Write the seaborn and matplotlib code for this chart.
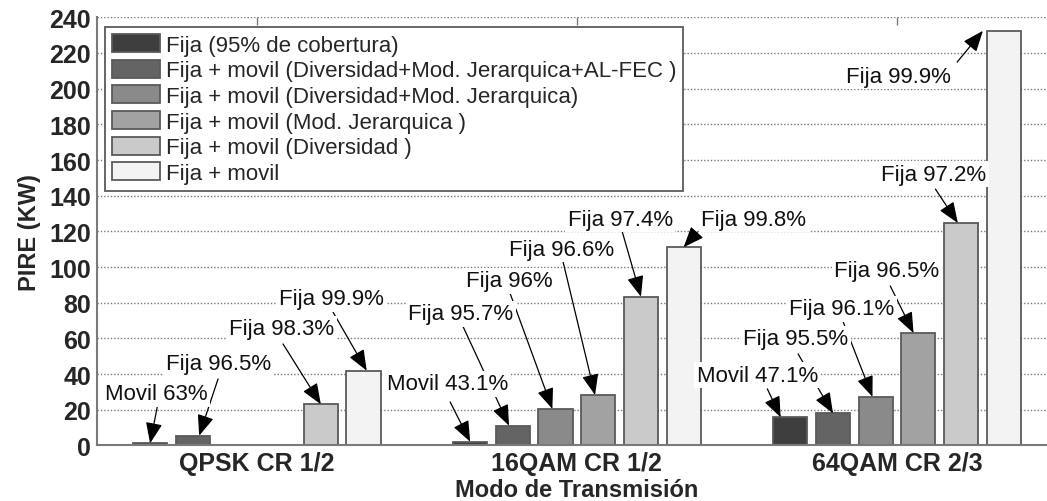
import numpy as np
import pandas as pd
import seaborn as sns
import matplotlib.pyplot as plt

modos = ['QPSK CR 1/2', '16QAM CR 1/2', '64QAM CR 2/3']
series = ['Fija (95% de cobertura)',
          'Fija + movil (Diversidad+Mod. Jerarquica+AL-FEC )',
          'Fija + movil (Diversidad+Mod. Jerarquica)',
          'Fija + movil (Mod. Jerarquica )',
          'Fija + movil (Diversidad )',
          'Fija + movil']
# PIRE (KW) per series, one value per modo
fija_95 = [1.2, 2.1, 15.8]
alfec = [5.5, 11.1, 18.0]
div_jer = [0.0, 20.5, 27.3]
jer = [0.0, 28.3, 63.0]
div = [23.1, 83.4, 124.7]
fija_movil = [41.9, 111.1, 232.4]
valores = [fija_95, alfec, div_jer, jer, div, fija_movil]

colores = ['#3e3e3e', '#646464', '#8a8a8a', '#a2a2a2', '#cacaca', '#f3f3f3']

# (series, modo, texto, posicion texto, inicio flecha, desplazamiento punta)
etiquetas = [
    (0, 0, 'Movil 63%', (-0.315, 28.9), (-0.311, 21.6), 0.0),
    (1, 0, 'Fija 96.5%', (-0.120, 45.7), (-0.121, 37.3), 0.02),
    (4, 0, 'Fija 98.3%', (0.078, 65.3), (0.082, 56.9), 0.0),
    (5, 0, 'Fija 99.9%', (0.234, 82.1), (0.238, 74.8), 0.01),
    (0, 1, 'Movil 43.1%', (0.596, 34.5), (0.604, 24.4), 0.0),
    (1, 1, 'Fija 95.7%', (0.638, 73.7), (0.645, 66.4), -0.012),
    (2, 1, 'Fija 96%', (0.788, 92.2), (0.792, 84.9), -0.01),
    (3, 1, 'Fija 96.6%', (0.952, 110.1), (0.957, 102.8), -0.01),
    (4, 1, 'Fija 97.4%', (1.135, 126.9), (1.142, 119.6), 0.0),
    (5, 1, 'Fija 99.8%', (1.553, 126.9), (1.376, 119.6), 0.0),
    (5, 2, 'Fija 99.9%', (2.006, 207.0), (2.188, 214.9), -0.065),
    (4, 2, 'Fija 97.2%', (2.115, 152.1), (2.120, 143.7), -0.01),
    (3, 2, 'Fija 96.5%', (1.968, 97.8), (1.979, 89.4), -0.015),
    (2, 2, 'Fija 96.1%', (1.828, 76.5), (1.832, 69.2), -0.01),
    (1, 2, 'Fija 95.5%', (1.684, 59.7), (1.691, 51.3), 0.0),
    (0, 2, 'Movil 47.1%', (1.565, 39.5), (1.595, 31.7), -0.03),
]

df = pd.DataFrame({
    'modo': np.tile(modos, len(series)),
    'serie': np.repeat(series, len(modos)),
    'pire': np.concatenate(valores),
})

sns.set_theme(style='white')
plt.rcParams['font.family'] = ['Liberation Sans', 'DejaVu Sans']

fig = plt.figure(figsize=(10.47, 5.02), dpi=100)
ax = fig.add_axes([0.0924, 0.1106, 0.9172, 0.853])

sns.barplot(data=df, x='modo', y='pire', hue='serie', order=modos,
            hue_order=series, palette=colores, saturation=1,
            width=0.8, gap=0.2, edgecolor='#5a5a5a', linewidth=1.3,
            ax=ax, zorder=2)

ax.set_ylim(0, 240)
ax.set_yticks(range(0, 241, 20))
ax.set_xlim(-0.5, 2.5)
ax.yaxis.grid(True, linestyle=(0, (1.0, 1.4)), color='#7a7a7a', lw=1.0)
ax.xaxis.grid(False)
ax.set_axisbelow(True)

for lado in ['top', 'right']:
    ax.spines[lado].set_visible(False)
for lado in ['left', 'bottom']:
    ax.spines[lado].set_color('#7a7a7a')
    ax.spines[lado].set_linewidth(1.5)

ax.tick_params(axis='x', direction='in', top=True, length=6, width=1,
               color='#7a7a7a', pad=4, labelsize=18)
ax.tick_params(axis='y', direction='in', length=6, width=1,
               color='#7a7a7a', pad=4, labelsize=18)
for t in ax.get_xticklabels() + ax.get_yticklabels():
    t.set_fontweight('bold')

ax.set_xlabel('Modo de Transmisión', fontsize=17, fontweight='bold', labelpad=2)
ax.set_ylabel('PIRE (KW)', fontsize=17, fontweight='bold', labelpad=6)

for s, g, texto, pos, inicio, dx in etiquetas:
    barra = ax.containers[s][g]
    punta = (barra.get_x() + barra.get_width() / 2 + dx, valores[s][g])
    ax.annotate('', xy=punta, xytext=inicio,
                arrowprops=dict(arrowstyle='-|>,head_length=0.8,head_width=0.32',
                                mutation_scale=16, color='black', lw=0.9,
                                shrinkA=0, shrinkB=0),
                zorder=5)
    ax.text(pos[0], pos[1], texto, fontsize=16, ha='center', va='center',
            color='#111111', zorder=6,
            bbox=dict(boxstyle='square,pad=0.12', fc='white', ec='none'))

leg = ax.legend(loc='upper left', bbox_to_anchor=(0.0086, 0.977),
                borderaxespad=0, fontsize=16, frameon=True, fancybox=False,
                framealpha=1, edgecolor='#5a5a5a', handlelength=2.16,
                handleheight=0.86, handletextpad=0.25, borderpad=0.32,
                labelspacing=0.18, title=None)
leg.get_frame().set_linewidth(1.3)
leg.set_zorder(7)

plt.savefig('out.png', dpi=100)
